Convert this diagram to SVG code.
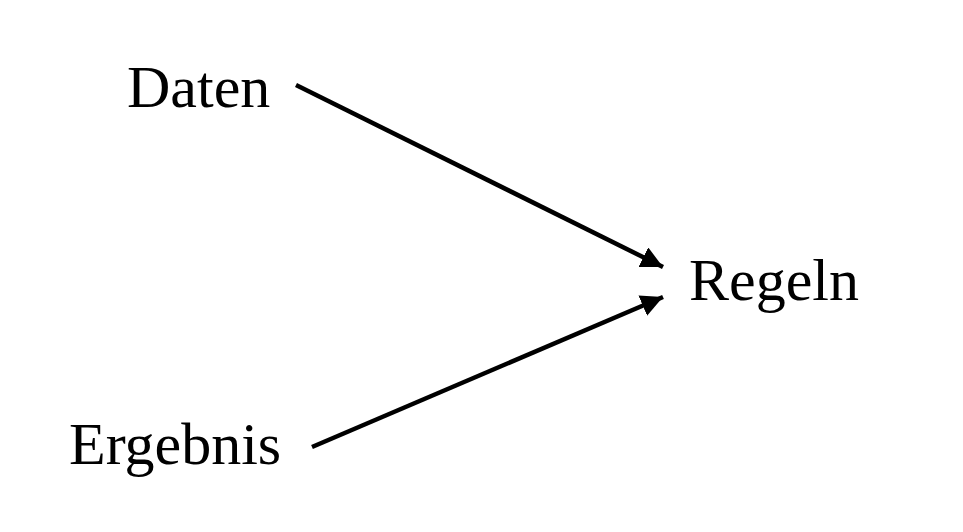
<svg xmlns="http://www.w3.org/2000/svg" width="963" height="532" viewBox="0 0 963 532">
<style>
text{font-family:"Liberation Serif","Times New Roman",serif;font-size:60px;fill:#000}
.edge{stroke:#000;stroke-width:4.5;fill:none;marker-end:url(#ah)}
</style>
<defs>
<marker id="ah" markerUnits="userSpaceOnUse" viewBox="0 0 22 22" refX="22" refY="11" markerWidth="22" markerHeight="22" orient="auto">
<path d="M0,0 L22,11 L0,22 z" fill="#000"/>
</marker>
</defs>
<rect width="963" height="532" fill="#fff"/>
<g id="connectors">
<line class="edge" x1="296" y1="85" x2="663" y2="267"/>
<line class="edge" x1="312" y1="447" x2="663" y2="297"/>
</g>
<g id="node-daten"><text x="127" y="107">Daten</text></g>
<g id="node-ergebnis"><text x="69" y="464">Ergebnis</text></g>
<g id="node-regeln"><text x="689" y="300">Regeln</text></g>
</svg>
